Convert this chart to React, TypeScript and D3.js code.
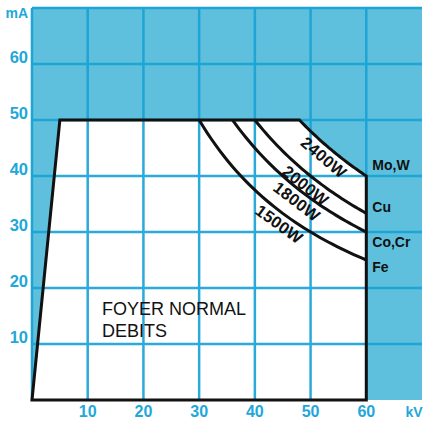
import React from "react";
import * as d3 from "d3";

// Operating-range chart of an X-ray tube: anode current (mA) against tube voltage (kV)
const kvTicks = [10, 20, 30, 40, 50, 60];
const maTicks = [10, 20, 30, 40, 50, 60];
const maxCurrent = 50; // mA ceiling
const maxVoltage = 60; // kV ceiling
const rampVoltage = 5; // kV at which the ceiling current is reached
const powerLimits = [2400, 2000, 1800, 1500]; // W
const powerLabels = ["2400W", "2000W", "1800W", "1500W"];
const anodeLabels = ["Mo,W", "Cu", "Co,Cr", "Fe"];
const focusLines = ["FOYER NORMAL", "DEBITS"];

const W = 424;
const H = 423;
const FILL = "#5ec0dd";
const GRID_DARK = "#1fa4d6";
const GRID_LIGHT = "#2aaadb";
const TICK = "#22a7d9";
const FONT = "'Liberation Sans', Arial, Helvetica, sans-serif";

export default function App() {
  const x = d3.scaleLinear().domain([0, 70]).range([32, 422]);
  const y = d3.scaleLinear().domain([0, 70]).range([400, 8]);

  const hyper = (p: number, v0: number, v1: number): [number, number][] =>
    d3.range(0, 41).map((i) => {
      const v = v0 + ((v1 - v0) * i) / 40;
      return [v, p / v];
    });

  const line = d3
    .line<[number, number]>()
    .x((d) => x(d[0]))
    .y((d) => y(d[1]));

  // Permitted region: ramp, ceiling, highest power hyperbola, voltage limit
  const topPower = powerLimits[0];
  const region: [number, number][] = [
    [0, 0],
    [rampVoltage, maxCurrent],
    ...hyper(topPower, topPower / maxCurrent, maxVoltage),
    [maxVoltage, 0],
  ];
  const regionPath = line(region) + "Z";

  const innerCurves = powerLimits.slice(1).map((p) => line(hyper(p, p / maxCurrent, maxVoltage)) as string);

  // label placement along each power curve (kV at label centre)
  const labelKv = [53.6, 50.3, 48.7, 45.5];
  const anodeDy = [-6, -1, 15, 12];

  return (
    <svg
      width={W}
      height={H}
      style={{ position: "absolute", left: 0, top: 0, background: "#fff" }}
      fontFamily={FONT}
    >
      <defs>
        <clipPath id="region-clip">
          <path d={regionPath} />
        </clipPath>
      </defs>

      {/* tinted plotting field */}
      <rect x={x(0)} y={y(70)} width={x(70) - x(0)} height={y(0) - y(70)} fill={FILL} />
      <g stroke={GRID_DARK} strokeWidth={2.5}>
        {kvTicks.map((t) => (
          <line key={"v" + t} x1={x(t)} x2={x(t)} y1={y(0)} y2={y(70)} />
        ))}
        {maTicks.map((t) => (
          <line key={"h" + t} x1={x(0)} x2={x(70)} y1={y(t)} y2={y(t)} />
        ))}
        <line x1={x(0)} x2={x(70)} y1={y(70)} y2={y(70)} />
        <line x1={x(0)} x2={x(0)} y1={y(0)} y2={y(70)} />
      </g>

      {/* permitted region in white with its own grid */}
      <path d={regionPath} fill="#fff" />
      <g stroke={GRID_LIGHT} strokeWidth={2.5} clipPath="url(#region-clip)">
        {kvTicks.map((t) => (
          <line key={"v" + t} x1={x(t)} x2={x(t)} y1={y(0)} y2={y(70)} />
        ))}
        {maTicks.map((t) => (
          <line key={"h" + t} x1={x(0)} x2={x(70)} y1={y(t)} y2={y(t)} />
        ))}
      </g>

      {innerCurves.map((d, i) => (
        <path key={i} d={d} fill="none" stroke="#111" strokeWidth={3} />
      ))}
      <path d={regionPath} fill="none" stroke="#111" strokeWidth={3} strokeLinejoin="miter" />

      {/* power labels following the curves */}
      {powerLimits.map((p, i) => {
        const v = labelKv[i];
        const px = x(v);
        const py = y(p / v);
        const slope = ((p / (v * v)) * (y(0) - y(1))) / (x(1) - x(0));
        const ang = (Math.atan(slope) * 180) / Math.PI;
        return (
          <text
            key={p}
            transform={`translate(${px},${py}) rotate(${ang})`}
            y={16.5}
            textAnchor="middle"
            fontSize={16.5}
            fontWeight="bold"
            letterSpacing={0.3}
            fill="#111"
          >
            {powerLabels[i]}
          </text>
        );
      })}

      {/* anode materials at the curve ends */}
      {powerLimits.map((p, i) => (
        <text
          key={"a" + p}
          x={x(maxVoltage) + 6}
          y={y(p / maxVoltage) + anodeDy[i]}
          fontSize={14}
          fontWeight="bold"
          fill="#111"
        >
          {anodeLabels[i]}
        </text>
      ))}

      <g fontSize={18} fill="#111">
        {focusLines.map((s, i) => (
          <text key={s} x={102} y={315 + i * 22}>
            {s}
          </text>
        ))}
      </g>

      {/* axes labels */}
      <g fill={TICK} fontSize={16.5} fontWeight="bold">
        {maTicks.map((t) => (
          <text key={"ym" + t} x={28} y={y(t) - 1} textAnchor="end">
            {t}
          </text>
        ))}
        {kvTicks.map((t) => (
          <text key={"xk" + t} x={x(t)} y={417} textAnchor="middle" fontSize={16}>
            {t}
          </text>
        ))}
        <text x={28} y={18} textAnchor="end" fontSize={14}>
          mA
        </text>
        <text x={414} y={417} textAnchor="middle" fontSize={14}>
          kV
        </text>
      </g>
    </svg>
  );
}
